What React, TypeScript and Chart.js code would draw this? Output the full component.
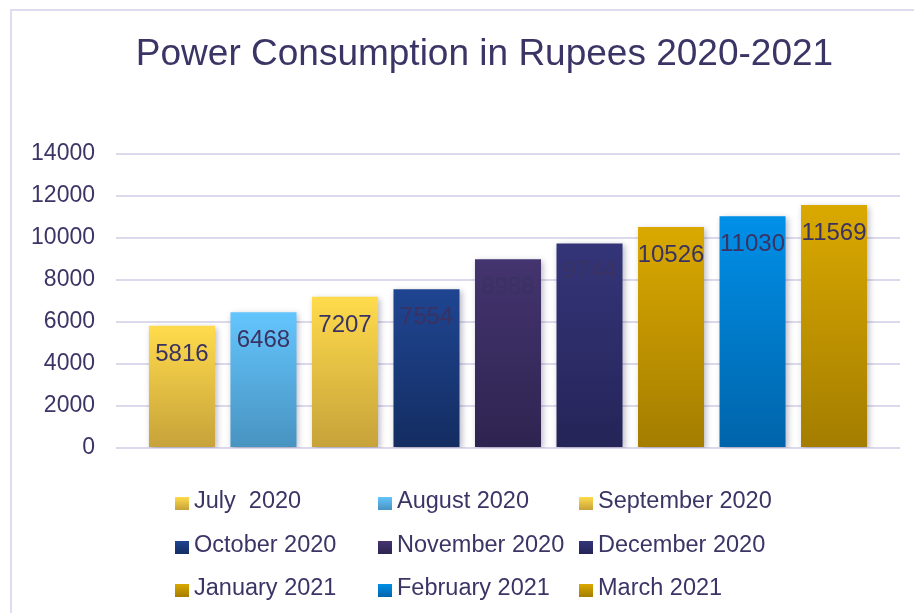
import React, { useEffect, useRef } from "react";
import { Chart, registerables } from "chart.js";

Chart.register(...registerables);

const TITLE = "Power Consumption in Rupees 2020-2021";
const months = [
  "July  2020",
  "August 2020",
  "September 2020",
  "October 2020",
  "November 2020",
  "December 2020",
  "January 2021",
  "February 2021",
  "March 2021",
];
const values = [5816, 6468, 7207, 7554, 8988, 9744, 10526, 11030, 11569];
const topColors = [
  "#ffdb4c",
  "#63c5fd",
  "#ffdb4c",
  "#1f4591",
  "#44346f",
  "#343579",
  "#daa900",
  "#0090e8",
  "#daa900",
];
const bottomColors = [
  "#c6a23a",
  "#4893c0",
  "#c6a23a",
  "#142d62",
  "#2e2450",
  "#252458",
  "#a47d00",
  "#0064aa",
  "#a47d00",
];
const yMin = 0;
const yMax = 14000;
const yStep = 2000;

const TEXT = "#3b3566";
const FONT = "'Liberation Sans', Arial, Helvetica, sans-serif";

function barGradient(c: any, i: number) {
  const chart = c.chart;
  const ys = chart.scales && chart.scales.y;
  if (!chart.chartArea || !ys) return bottomColors[i];
  const top = ys.getPixelForValue(values[i]);
  const base = ys.getPixelForValue(0);
  const g = chart.ctx.createLinearGradient(0, top, 0, base);
  g.addColorStop(0, topColors[i]);
  g.addColorStop(1, bottomColors[i]);
  return g;
}

const framePlugin = {
  id: "frameTitle",
  beforeDraw(chart: any) {
    const ctx = chart.ctx;
    ctx.save();
    ctx.fillStyle = "#ffffff";
    ctx.fillRect(0, 0, chart.width, chart.height);
    ctx.strokeStyle = "#dedcf0";
    ctx.lineWidth = 2;
    ctx.strokeRect(11, 10, 1000, 1000);
    ctx.fillStyle = TEXT;
    ctx.font = `37px ${FONT}`;
    ctx.textAlign = "center";
    ctx.textBaseline = "alphabetic";
    ctx.fillText(TITLE, 484.5, 65);
    ctx.restore();
  },
};

const shadowLabelPlugin = {
  id: "shadowLabels",
  beforeDatasetsDraw(chart: any) {
    const ctx = chart.ctx;
    ctx.save();
    ctx.shadowColor = "rgba(60, 50, 90, 0.35)";
    ctx.shadowBlur = 6;
    ctx.shadowOffsetX = 2;
    ctx.shadowOffsetY = 2;
  },
  afterDatasetsDraw(chart: any) {
    const ctx = chart.ctx;
    ctx.restore();
    ctx.save();
    ctx.fillStyle = "#3a3262";
    ctx.font = `24px ${FONT}`;
    ctx.textAlign = "center";
    ctx.textBaseline = "alphabetic";
    chart.data.datasets.forEach((ds: any, i: number) => {
      const meta = chart.getDatasetMeta(i);
      const el = meta.data[0];
      if (!el) return;
      ctx.fillText(String(ds.data[0]), el.x, el.y + 35);
    });
    ctx.restore();
  },
};

const legendPlugin = {
  id: "gridLegend",
  afterDraw(chart: any) {
    const ctx = chart.ctx;
    const colX = [175, 378, 579];
    const rowBase = [508, 552, 595];
    ctx.save();
    ctx.font = `23.5px ${FONT}`;
    ctx.textAlign = "left";
    ctx.textBaseline = "alphabetic";
    chart.data.datasets.forEach((ds: any, i: number) => {
      const x = colX[i % 3];
      const b = rowBase[Math.floor(i / 3)];
      const top = b - 11;
      const g = ctx.createLinearGradient(0, top, 0, top + 13);
      g.addColorStop(0, topColors[i]);
      g.addColorStop(1, bottomColors[i]);
      ctx.fillStyle = g;
      ctx.fillRect(x, top, 14, 13);
      ctx.fillStyle = TEXT;
      ctx.fillText(ds.label, x + 19, b);
    });
    ctx.restore();
  },
};

export default function App() {
  const ref = useRef<HTMLCanvasElement | null>(null);

  useEffect(() => {
    if (!ref.current) return;
    const chart = new Chart(ref.current, {
      type: "bar",
      data: {
        labels: [""],
        datasets: months.map((m, i) => ({
          label: m,
          data: [values[i]],
          backgroundColor: (c: any) => barGradient(c, i),
          borderWidth: 0,
          categoryPercentage: 0.9357,
          barPercentage: 0.81,
        })),
      },
      options: {
        responsive: false,
        animation: false,
        devicePixelRatio: 1,
        layout: { padding: { top: 154, bottom: 165, left: 0, right: 14 } },
        plugins: {
          legend: { display: false },
          title: { display: false },
          tooltip: { enabled: false },
        },
        scales: {
          x: { display: false },
          y: {
            min: yMin,
            max: yMax,
            border: { display: false },
            grid: { color: "#dcd9ec", lineWidth: 2, drawTicks: false },
            ticks: {
              stepSize: yStep,
              padding: 21,
              color: TEXT,
              font: { size: 23, family: FONT },
              callback: (v: any) => String(v),
            },
            afterFit(scale: any) {
              scale.width = 116;
            },
          },
        },
      },
      plugins: [framePlugin, shadowLabelPlugin, legendPlugin],
    } as any);
    return () => chart.destroy();
  }, []);

  return (
    <div style={{ position: "fixed", left: 0, top: 0, width: 914, height: 613, background: "#fff" }}>
      <canvas ref={ref} width={914} height={613} style={{ display: "block", width: 914, height: 613 }} />
    </div>
  );
}
